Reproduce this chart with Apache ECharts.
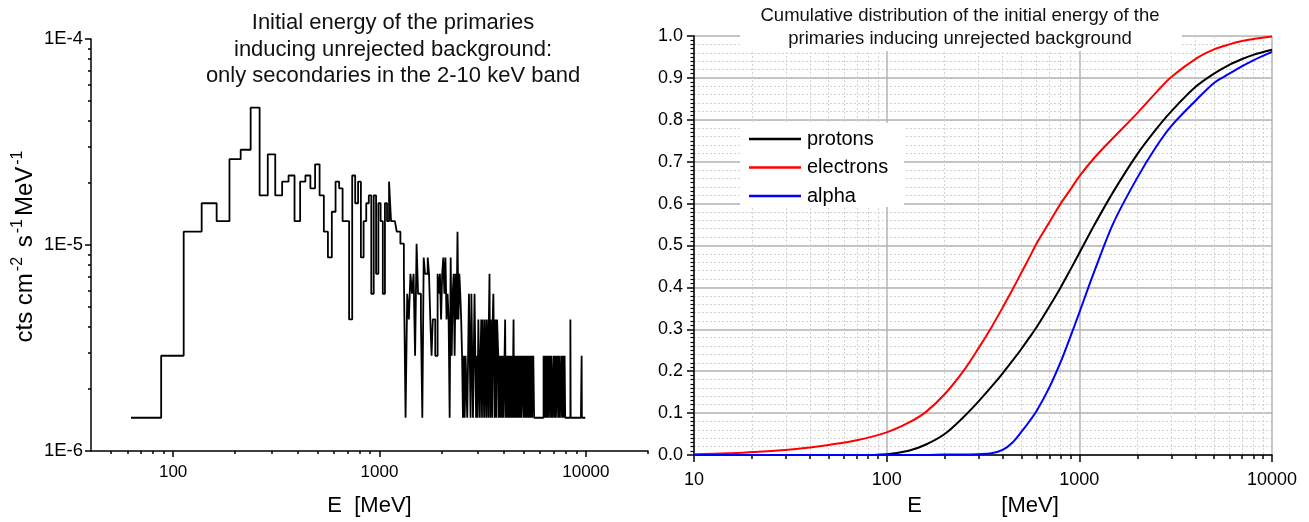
<!DOCTYPE html>
<html><head><meta charset="utf-8">
<script src="https://cdn.jsdelivr.net/npm/echarts@6/dist/echarts.min.js"></script>
<style>html,body{margin:0;padding:0;background:#fff}#c{width:1309px;height:522px}</style>
</head><body><div id="c"></div>
<script>
// ---------------- DATA ----------------
// Left panel: histogram of primary energy (25 MeV wide bins, counts)
const HIST_BIN_START = 62.5;      // MeV, lower edge of first bin
const HIST_BIN_WIDTH = 25;        // MeV
const HIST_COUNT_UNIT = 1.45e-6;  // cts cm-2 s-1 MeV-1 for one count
const histCounts = [
  1,2,8,11,9,18,20,32,12,19,12,14,15,9,14,15,13,17,12,8,
  6,10,14,13,9,9,3,15,11,14,6,9,11,12,4,12,5,11,9,4,
  11,9,14,9,9,9,8,8,7,7,5,1,4,3,5,4,5,2,7,4,
  4,3,1,6,5,5,6,5,3,2,3,3,2,2,5,4,5,3,5,6,
  4,6,3,4,3,1,6,2,4,5,2,5,3,8,3,5,4,3,2,1,
  2,1,2,2,1,2,4,2,1,4,2,1,2,4,2,1,2,1,3,3,
  1,2,3,1,3,2,1,3,2,1,3,2,1,3,5,1,3,2,1,3,
  4,2,1,3,2,1,3,3,2,1,0,2,1,2,0,1,2,1,0,2,
  3,1,2,0,1,2,1,0,2,1,2,0,1,2,1,0,3,1,2,1,
  2,0,1,2,0,1,2,1,0,2,1,0,2,1,0,1,2,0,1,2,
  0,1,2,0,1,0,2,1,0,2,0,1,2,0,1,0,2,1,0,1,
  2,0,1,0,1,0,0,1,0,0,0,1,0,0,0,0,1,0,0,0,
  0,1,0,0,0,0,0,2,1,0,0,2,0,1,0,0,2,1,0,0,
  2,0,1,0,0,2,0,0,1,0,2,0,0,1,0,0,0,2,0,1,
  0,0,2,0,1,0,0,0,2,0,0,1,0,0,2,0,0,1,0,0,
  0,2,0,0,1,0,0,2,0,1,0,0,0,2,0,1,0,0,0,1,
  0,0,0,1,0,0,0,0,1,0,0,0,0,0,3,1,0,0,0,1,
  0,0,0,0,1,0,0,0,0,0,1,0,0,0,0,1,0,0,0,0,
  1,0,0,0,0,0,1,0,0,0,0,1,0,0,0,0,1,0,0,2,
  1,0,0,0,0,0,0,1,0,0,0,0,0,0,0,1,0,0
];
const leftXMajorTicks = [100, 1000, 10000];
const leftXMinorTicks = [50,60,70,80,90,200,300,400,500,600,700,800,900,2000,3000,4000,5000,6000,7000,8000,9000,20000];
const leftYMajorTicks = [1e-6, 1e-5, 1e-4];
const leftYMinorTicks = [2e-6,3e-6,4e-6,5e-6,6e-6,7e-6,8e-6,9e-6,2e-5,3e-5,4e-5,5e-5,6e-5,7e-5,8e-5,9e-5];

// Right panel: cumulative distributions
const cdfEnergies  = [10,15,20,30,40,50,70,100,130,160,200,250,300,350,400,450,500,550,600,700,800,900,1000,1200,1500,2000,2500,3000,4000,5000,6000,7000,8000,10000];
const cdfProtons   = [0,0,0,0,0,0,0,0.002,0.01,0.025,0.05,0.09,0.128,0.163,0.195,0.225,0.253,0.28,0.305,0.355,0.4,0.443,0.482,0.55,0.628,0.718,0.777,0.82,0.878,0.91,0.931,0.945,0.955,0.967];
const cdfElectrons = [0.002,0.004,0.007,0.012,0.018,0.024,0.035,0.054,0.077,0.103,0.145,0.2,0.255,0.305,0.352,0.395,0.435,0.471,0.505,0.556,0.6,0.634,0.665,0.71,0.757,0.816,0.865,0.902,0.945,0.968,0.98,0.988,0.993,0.999];
const cdfAlpha     = [0,0,0,0,0,0,0,0,0,0,0.001,0.001,0.002,0.004,0.012,0.03,0.055,0.08,0.105,0.162,0.222,0.283,0.34,0.44,0.553,0.662,0.735,0.785,0.845,0.888,0.91,0.928,0.942,0.962];
const rightXMajorTicks = [10, 100, 1000, 10000];
const rightXMinorTicks = [20,30,40,50,60,70,80,90,200,300,400,500,600,700,800,900,2000,3000,4000,5000,6000,7000,8000,9000];

// ---------------- BUILD ----------------
const FONT = "'Liberation Sans', Arial, sans-serif";
const histPoints = [];
let lastIdx = -1;
histCounts.forEach((c, i) => {
  if (c > 0) { histPoints.push([HIST_BIN_START + i * HIST_BIN_WIDTH, c * HIST_COUNT_UNIT]); lastIdx = i; }
});
histPoints.push([HIST_BIN_START + (lastIdx + 1) * HIST_BIN_WIDTH, histCounts[lastIdx] * HIST_COUNT_UNIT]);

const pairs = (ys) => cdfEnergies.map((e, i) => [e, ys[i]]);

const blackLine = { color: '#000', width: 1.5 };
const chart = echarts.init(document.getElementById('c'), null, { renderer: 'canvas' });
chart.setOption({
  animation: false,
  backgroundColor: '#fff',
  grid: [
    { left: 91, top: 39, width: 557, height: 413 },
    { left: 694, top: 36, width: 578, height: 426 }
  ],
  xAxis: [
    { type: 'log', gridIndex: 0, min: 40, max: 20000, position: 'bottom',
      axisLine: { show: false }, axisLabel: { show: false }, splitLine: { show: false },
      axisTick: { show: true, customValues: leftXMinorTicks, length: 3, lineStyle: blackLine } },
    { type: 'log', gridIndex: 0, min: 40, max: 20000, position: 'bottom',
      axisLine: { show: true, onZero: false, lineStyle: blackLine },
      axisTick: { show: true, customValues: leftXMajorTicks, length: 6, lineStyle: blackLine },
      axisLabel: { customValues: leftXMajorTicks, formatter: v => String(Math.round(v)), fontSize: 17, color: '#000', fontFamily: FONT, margin: 13 },
      splitLine: { show: false },
      name: 'E  [MeV]', nameLocation: 'middle', nameGap: 44,
      nameTextStyle: { fontSize: 22, color: '#000', fontFamily: FONT } },
    { type: 'log', gridIndex: 1, min: 10, max: 10000, position: 'bottom',
      axisLine: { show: false }, axisLabel: { show: false },
      axisTick: { show: true, customValues: rightXMinorTicks, length: 4, lineStyle: blackLine },
      splitLine: { show: true, lineStyle: { color: '#d2d2d2', width: 1, type: [2, 2] } } },
    { type: 'log', gridIndex: 1, min: 10, max: 10000, position: 'bottom',
      axisLine: { show: true, onZero: false, lineStyle: blackLine },
      axisTick: { show: true, customValues: rightXMajorTicks, length: 7, lineStyle: blackLine },
      axisLabel: { customValues: rightXMajorTicks, formatter: v => String(Math.round(v)), fontSize: 18, color: '#000', fontFamily: FONT, margin: 16 },
      splitLine: { show: true, lineStyle: { color: '#b4b4b4', width: 1.5 } },
      name: 'E             [MeV]', nameLocation: 'middle', nameGap: 40,
      nameTextStyle: { fontSize: 22, color: '#000', fontFamily: FONT } }
  ],
  yAxis: [
    { type: 'log', gridIndex: 0, min: 1e-6, max: 1e-4, position: 'left',
      axisLine: { show: false }, axisLabel: { show: false }, splitLine: { show: false },
      axisTick: { show: true, customValues: leftYMinorTicks, length: 3, lineStyle: blackLine } },
    { type: 'log', gridIndex: 0, min: 1e-6, max: 1e-4, position: 'left',
      axisLine: { show: true, onZero: false, lineStyle: blackLine },
      axisTick: { show: true, customValues: leftYMajorTicks, length: 6, lineStyle: blackLine },
      axisLabel: { customValues: leftYMajorTicks, formatter: v => '1E' + Math.round(Math.log10(v)), fontSize: 18.5, color: '#000', fontFamily: FONT, margin: 8 },
      splitLine: { show: false },
      name: 'cts cm{s|-2} s{s|-1}MeV{s|-1}', nameLocation: 'middle', nameRotate: 90, nameGap: 46,
      nameTextStyle: { fontSize: 24, color: '#000', fontFamily: FONT, lineHeight: 30,
        rich: { s: { fontSize: 16, fontFamily: FONT, color: '#000', verticalAlign: 'top', lineHeight: 18, padding: [0, 3, 0, 2] } } } },
    { type: 'value', gridIndex: 1, min: 0, max: 1, interval: 0.02, position: 'left',
      axisLine: { show: false }, axisTick: { show: false }, axisLabel: { show: false },
      splitLine: { show: true, lineStyle: { color: '#d2d2d2', width: 1, type: [2, 2] } } },
    { type: 'value', gridIndex: 1, min: 0, max: 1, interval: 0.1, position: 'left',
      axisLine: { show: true, onZero: false, lineStyle: blackLine },
      axisTick: { show: true, length: 7, lineStyle: blackLine },
      minorTick: { show: true, splitNumber: 10, length: 3.5, lineStyle: { color: '#000', width: 1.2 } },
      axisLabel: { formatter: v => v.toFixed(1), fontSize: 18, color: '#000', fontFamily: FONT, margin: 11 },
      splitLine: { show: true, lineStyle: { color: '#b4b4b4', width: 1.5 } } }
  ],
  legend: {
    data: ['protons', 'electrons', 'alpha'], orient: 'vertical', left: 749, top: 129, z: 10,
    icon: 'rect', itemWidth: 52, itemHeight: 2.5, itemGap: 8.5, padding: 0,
    textStyle: { fontSize: 20, color: '#000', fontFamily: FONT, lineHeight: 20, padding: [0, 0, 0, 1] }
  },
  graphic: [
    { type: 'rect', z: 5, shape: { x: 740, y: 0, width: 442, height: 51 }, style: { fill: '#fff' } },
    { type: 'rect', z: 5, shape: { x: 740, y: 123, width: 164, height: 84 }, style: { fill: '#fff' } },
    { type: 'text', z: 11, x: 393, y: 10, style: { text: 'Initial energy of the primaries\ninducing unrejected background:\nonly secondaries in the 2-10 keV band', textAlign: 'center', textVerticalAlign: 'top', font: '22px ' + FONT, lineHeight: 26.5, fill: '#111' } },
    { type: 'text', z: 11, x: 960, y: 4, style: { text: 'Cumulative distribution of the initial energy of the\nprimaries inducing unrejected background', textAlign: 'center', textVerticalAlign: 'top', font: '18.5px ' + FONT, lineHeight: 23, fill: '#111' } }
  ],
  series: [
    { type: 'line', name: 'hist', xAxisIndex: 1, yAxisIndex: 1, data: histPoints, step: 'end', symbol: 'none',
      lineStyle: { color: '#000', width: 1.8 } },
    { type: 'line', name: 'protons', xAxisIndex: 3, yAxisIndex: 3, data: pairs(cdfProtons), smooth: 0.3, symbol: 'none',
      itemStyle: { color: '#000' }, lineStyle: { color: '#000', width: 2 } },
    { type: 'line', name: 'electrons', xAxisIndex: 3, yAxisIndex: 3, data: pairs(cdfElectrons), smooth: 0.3, symbol: 'none',
      itemStyle: { color: '#ff0000' }, lineStyle: { color: '#ff0000', width: 2 } },
    { type: 'line', name: 'alpha', xAxisIndex: 3, yAxisIndex: 3, data: pairs(cdfAlpha), smooth: 0.3, symbol: 'none',
      itemStyle: { color: '#0000ff' }, lineStyle: { color: '#0000ff', width: 2 } }
  ]
});
</script></body></html>
